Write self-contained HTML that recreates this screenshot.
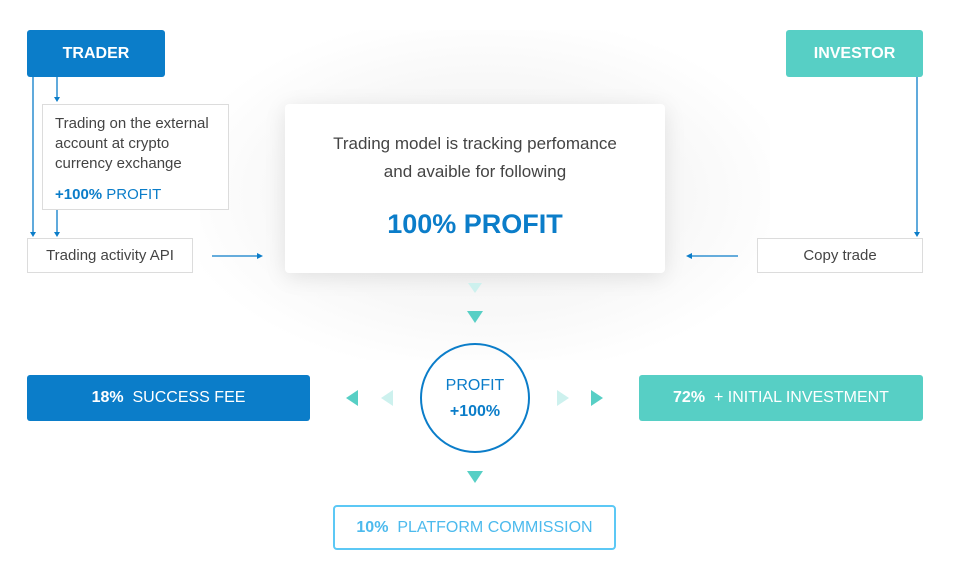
<!DOCTYPE html>
<html><head><style>
*{margin:0;padding:0;box-sizing:border-box}
body{width:974px;height:567px;background:#fff;position:relative;font-family:"Liberation Sans",sans-serif;overflow:hidden}
.a{position:absolute}
.btn{display:flex;align-items:center;justify-content:center;color:#fff;border-radius:3px}
.box{border:1px solid #dcdcdc;background:#fff;color:#444;font-size:15px}
</style></head><body>
<div class="a" style="left:200px;top:30px;width:570px;height:330px;background:radial-gradient(ellipse at center,#f3f3f3 0%,#f8f8f8 50%,#fff 78%)"></div>
<div class="a btn" style="left:27px;top:30px;width:138px;height:47px;background:#0b7dc9;font-weight:bold;font-size:16px">TRADER</div>
<div class="a btn" style="left:786px;top:30px;width:137px;height:47px;background:#57cfc5;font-weight:bold;font-size:16px">INVESTOR</div>
<div class="a box" style="left:42px;top:104px;width:187px;height:106px;padding:9px 12px;line-height:20px">Trading on the external account at crypto currency exchange<div style="margin-top:11px;color:#0b7dc9"><b>+100%</b> PROFIT</div></div>
<div class="a box" style="left:27px;top:238px;width:166px;height:35px;display:flex;align-items:center;justify-content:center">Trading activity API</div>
<div class="a box" style="left:757px;top:238px;width:166px;height:35px;display:flex;align-items:center;justify-content:center">Copy trade</div>
<div class="a" style="left:285px;top:104px;width:380px;height:169px;background:#fff;border-radius:4px;box-shadow:0 4px 22px rgba(0,0,0,0.10);text-align:center;color:#444;font-size:17px;line-height:28px;padding-top:26px">Trading model is tracking perfomance<br>and avaible for following<div style="margin-top:24px;color:#0b7dc9;font-weight:bold;font-size:27px">100% PROFIT</div></div>
<div class="a btn" style="left:27px;top:375px;width:283px;height:46px;background:#0b7dc9;font-size:16px"><b>18%</b>&nbsp; SUCCESS FEE</div>
<div class="a btn" style="left:639px;top:375px;width:284px;height:46px;background:#57cfc5;font-size:16px"><b>72%</b>&nbsp; + INITIAL INVESTMENT</div>
<div class="a btn" style="left:333px;top:505px;width:283px;height:45px;border:2px solid #5cc8f5;border-radius:4px;color:#4cbaed;font-size:16px"><b>10%</b>&nbsp; PLATFORM COMMISSION</div>
<div class="a" style="left:420px;top:343px;width:110px;height:110px;border:2px solid #0b7dc9;border-radius:50%;text-align:center;color:#0b7dc9;font-size:16px;line-height:26px;padding-top:28px">PROFIT<br><b>+100%</b></div>
<svg class="a" style="left:0;top:0" width="974" height="567">
<g stroke="#0b7dc9" stroke-width="1.3" fill="none">
<line x1="33" y1="77" x2="33" y2="233"/><line x1="57" y1="77" x2="57" y2="97"/><line x1="57" y1="210" x2="57" y2="233"/>
<line x1="212" y1="256" x2="257" y2="256"/><line x1="917" y1="77" x2="917" y2="233"/><line x1="738" y1="256" x2="692" y2="256"/>
</g>
<g fill="#0b7dc9">
<polygon points="30,232 36,232 33,237"/><polygon points="54,97 60,97 57,102"/><polygon points="54,232 60,232 57,237"/>
<polygon points="257,253 257,259 263,256"/><polygon points="914,232 920,232 917,237"/><polygon points="692,253 692,259 686,256"/>
</g>
<polygon points="468,283 482,283 475,293" fill="#cdf1ee"/>
<polygon points="467,311 483,311 475,323" fill="#57cfc5"/>
<polygon points="467,471 483,471 475,483" fill="#57cfc5"/>
<polygon points="358,390 358,406 346,398" fill="#57cfc5"/>
<polygon points="393,390 393,406 381,398" fill="#cdf1ee"/>
<polygon points="557,390 557,406 569,398" fill="#cdf1ee"/>
<polygon points="591,390 591,406 603,398" fill="#57cfc5"/>
</svg>
</body></html>
